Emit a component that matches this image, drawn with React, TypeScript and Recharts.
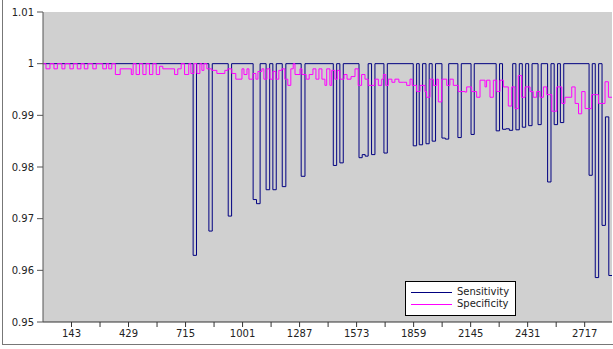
import React from "react";
import { LineChart, Line, XAxis, YAxis, CartesianGrid } from "recharts";

const sensitivityX = [0, 753, 770, 832, 849, 929, 946, 1054, 1071, 1089, 1119, 1137, 1153, 1170, 1200, 1218, 1295, 1314, 1456, 1473, 1489, 1506, 1585, 1601, 1616, 1631, 1648, 1665, 1710, 1727, 1857, 1874, 1887, 1904, 1921, 1937, 1952, 1969, 2001, 2018, 2035, 2081, 2098, 2147, 2163, 2273, 2290, 2305, 2322, 2339, 2356, 2372, 2389, 2404, 2421, 2436, 2453, 2483, 2499, 2531, 2548, 2564, 2581, 2595, 2612, 2739, 2755, 2770, 2787, 2804, 2821, 2838, 2854];
const sensitivityY = [1, 0.9629, 1, 0.9676, 1, 0.9705, 1, 0.9737, 0.9729, 1, 0.9756, 1, 0.9756, 1, 0.9762, 1, 0.9782, 1, 0.9803, 1, 0.9808, 1, 0.9818, 0.9824, 0.9821, 1, 0.9824, 1, 0.9827, 1, 0.9841, 1, 0.9843, 1, 0.9845, 1, 0.985, 1, 0.9856, 0.9854, 1, 0.9857, 1, 0.9863, 1, 0.987, 1, 0.9873, 0.9874, 0.9871, 1, 0.9872, 1, 0.9877, 1, 0.988, 1, 0.9882, 1, 0.9771, 1, 0.9882, 1, 0.9886, 1, 0.9784, 1, 0.9586, 1, 0.9687, 0.9897, 0.959, 0.959];

const specificityX = [0, 15, 35, 55, 72, 95, 110, 135, 152, 172, 190, 207, 225, 250, 267, 300, 318, 330, 345, 363, 387, 443, 452, 467, 484, 501, 517, 534, 551, 568, 585, 601, 660, 676, 693, 710, 731, 742, 757, 772, 787, 797, 807, 822, 847, 872, 912, 927, 947, 967, 998, 1008, 1023, 1033, 1053, 1068, 1078, 1098, 1108, 1123, 1138, 1153, 1168, 1183, 1198, 1213, 1228, 1243, 1255, 1264, 1289, 1299, 1320, 1335, 1354, 1369, 1384, 1399, 1414, 1423, 1439, 1448, 1464, 1476, 1489, 1510, 1525, 1545, 1565, 1581, 1598, 1615, 1631, 1665, 1682, 1699, 1707, 1719, 1732, 1750, 1765, 1785, 1807, 1824, 1841, 1852, 1874, 1891, 1916, 1924, 1941, 1958, 1975, 1983, 2000, 2025, 2041, 2058, 2083, 2117, 2125, 2150, 2175, 2192, 2217, 2225, 2242, 2259, 2276, 2292, 2309, 2334, 2351, 2367, 2384, 2401, 2418, 2443, 2459, 2476, 2493, 2510, 2527, 2552, 2577, 2602, 2618, 2652, 2669, 2686, 2702, 2719, 2752, 2786, 2819, 2836, 2854];
const specificityY = [1, 0.999, 1, 0.999, 1, 0.999, 1, 0.999, 1, 0.999, 1, 0.999, 1, 0.999, 1, 0.999, 1, 0.999, 1, 0.9979, 0.999, 0.9979, 1, 0.9979, 1, 0.9979, 1, 0.9979, 1, 0.9979, 0.9995, 0.999, 0.9979, 0.999, 1, 0.9979, 1, 0.9981, 1, 0.9981, 1, 0.9987, 1, 0.999, 0.9987, 0.9981, 0.9987, 0.999, 0.9981, 0.997, 0.999, 0.9979, 0.999, 0.997, 0.9981, 0.997, 0.9985, 0.999, 0.997, 0.999, 0.997, 0.9985, 0.997, 0.9987, 0.999, 0.997, 0.9958, 0.999, 1, 0.9979, 0.999, 0.9979, 0.997, 0.9979, 0.999, 0.997, 0.999, 0.997, 0.9958, 0.999, 0.9958, 0.9987, 0.997, 0.9987, 0.997, 0.9979, 0.997, 0.9975, 0.999, 0.9958, 0.9979, 0.997, 0.9958, 0.997, 0.9958, 0.997, 0.9979, 0.9958, 0.997, 0.9964, 0.997, 0.9964, 0.9964, 0.9958, 0.997, 0.9958, 0.9946, 0.9958, 0.9946, 0.9935, 0.997, 0.9958, 0.997, 0.9926, 0.997, 0.9958, 0.997, 0.9958, 0.9946, 0.9945, 0.9955, 0.9946, 0.9935, 0.9968, 0.9955, 0.9968, 0.9935, 0.9968, 0.9946, 0.9968, 0.9955, 0.9918, 0.9955, 0.9913, 0.9977, 0.9935, 0.9955, 0.9946, 0.9935, 0.9946, 0.9935, 0.9955, 0.994, 0.9908, 0.9955, 0.9923, 0.9935, 0.9955, 0.9923, 0.9903, 0.9946, 0.9913, 0.994, 0.9923, 0.9965, 0.9935, 0.9935];

const yTicks = [0.95, 0.96, 0.97, 0.98, 0.99, 1, 1.01];
const xTicks = [143, 286, 429, 572, 715, 858, 1001, 1144, 1287, 1430, 1573, 1716, 1859, 2002, 2145, 2288, 2431, 2574, 2717];
const xLabels = [143, 429, 715, 1001, 1287, 1573, 1859, 2145, 2431, 2717];

const seriesNames = ["Sensitivity", "Specificity"];
const seriesColors = ["#000080", "#ff00ff"];

const sensitivityData = sensitivityX.map((x, i) => ({ x, v: sensitivityY[i] }));
const specificityData = specificityX.map((x, i) => ({ x, v: specificityY[i] }));

const FONT = "'DejaVu Sans', sans-serif";

const LegendBox = () => (
  <div
    style={{
      position: "absolute",
      left: 405,
      top: 281,
      width: 111,
      height: 35,
      boxSizing: "border-box",
      border: "1px solid #000",
      background: "#fff",
      fontFamily: FONT,
      fontSize: 10,
      color: "#222",
    }}
  >
    {seriesNames.map((name, i) => (
      <div key={name} style={{ position: "absolute", left: 0, top: 4 + i * 11.6, height: 12, width: 109 }}>
        <svg width={48} height={12} style={{ position: "absolute", left: 0, top: 0 }}>
          <line x1={5} x2={46} y1={6.5} y2={6.5} stroke={seriesColors[i]} strokeWidth={1} />
        </svg>
        <span style={{ position: "absolute", left: 51, top: -1, lineHeight: "14px", whiteSpace: "nowrap" }}>{name}</span>
      </div>
    ))}
  </div>
);

export default function App() {
  return (
    <div style={{ position: "absolute", left: 0, top: 0, width: 613, height: 349, background: "#fff" }}>
      <div
        style={{
          position: "absolute",
          left: 2,
          top: 0,
          width: 610,
          height: 344,
          borderLeft: "1px solid #777",
          borderBottom: "1px solid #777",
          borderRight: "1px solid #999",
        }}
      />
      <LineChart
        width={613}
        height={349}
        margin={{ top: 12, right: 1, bottom: 0, left: 0 }}
        style={{ position: "absolute", left: 0, top: 0 }}
      >
        <CartesianGrid horizontal={false} vertical={false} fill="#d0d0d0" />
        <XAxis
          type="number"
          dataKey="x"
          domain={[0, 2854]}
          ticks={xTicks}
          interval={0}
          height={27}
          tickFormatter={(v: number) => (xLabels.includes(v) ? String(v) : "")}
          tickSize={5}
          tickMargin={3}
          stroke="#333"
          tick={{ fill: "#222", fontSize: 10, fontFamily: FONT }}
          allowDataOverflow
        />
        <YAxis
          type="number"
          domain={[0.95, 1.01]}
          ticks={yTicks}
          interval={0}
          width={43}
          tickSize={6}
          tickMargin={3}
          stroke="#555"
          tickFormatter={(v: number) => (v === 1 ? "1" : v.toFixed(2))}
          tick={{ fill: "#222", fontSize: 10, fontFamily: FONT }}
          allowDataOverflow
        />
        <Line
          data={sensitivityData}
          dataKey="v"
          name={seriesNames[0]}
          type="stepAfter"
          stroke={seriesColors[0]}
          strokeWidth={1}
          dot={false}
          activeDot={false}
          isAnimationActive={false}
        />
        <Line
          data={specificityData}
          dataKey="v"
          name={seriesNames[1]}
          type="stepAfter"
          stroke={seriesColors[1]}
          strokeWidth={1}
          dot={false}
          activeDot={false}
          isAnimationActive={false}
        />
      </LineChart>
      <LegendBox />
    </div>
  );
}
